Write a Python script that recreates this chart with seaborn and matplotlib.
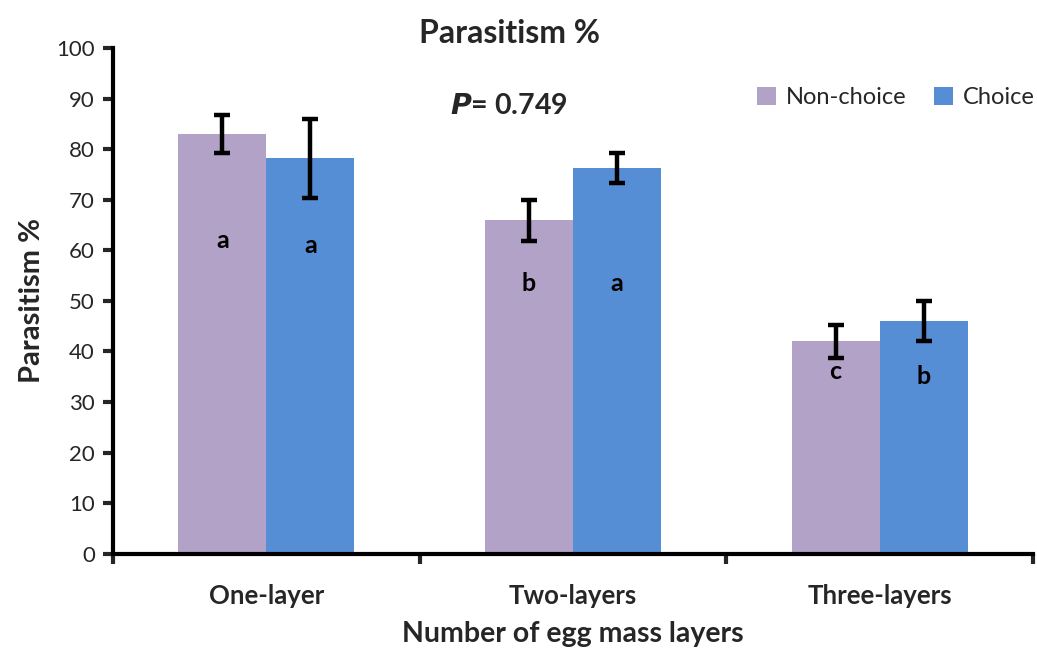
import matplotlib
matplotlib.use("Agg")
import matplotlib.pyplot as plt
import seaborn as sns
import pandas as pd
import numpy as np

# Data
layers = ["One-layer", "Two-layers", "Three-layers"]
treatments = ["Non-choice", "Choice"]
non_choice = [83.0, 65.9, 42.0]
choice = [78.2, 76.3, 46.0]
non_choice_err = [3.8, 4.0, 3.3]
choice_err = [7.8, 2.9, 3.9]
non_choice_letters = ["a", "b", "c"]
choice_letters = ["a", "a", "b"]
letter_y_non_choice = [62, 53.5, 36]
letter_y_choice = [61, 53.5, 35]

df = pd.DataFrame({
    "layer": layers * 2,
    "treatment": [treatments[0]] * 3 + [treatments[1]] * 3,
    "value": non_choice + choice,
    "err": non_choice_err + choice_err,
})

sns.set_style("white")
plt.rcParams["font.family"] = ["Lato", "DejaVu Sans"]

fig = plt.figure(figsize=(10.37, 6.53), dpi=100)
ax = fig.add_axes([0.109, 0.152, 0.887, 0.7745])

palette = {"Non-choice": "#B3A2C7", "Choice": "#558ED5"}
sns.barplot(data=df, x="layer", y="value", hue="treatment", order=layers,
            hue_order=treatments, palette=palette, width=0.574, gap=0,
            errorbar=None, saturation=1, ax=ax, linewidth=0)

# error bars and letters at bar centres
for cont, vals, errs, letters, ly in zip(
        ax.containers, [non_choice, choice], [non_choice_err, choice_err],
        [non_choice_letters, choice_letters], [letter_y_non_choice, letter_y_choice]):
    xs = [p.get_x() + p.get_width() / 2 for p in cont.patches]
    ax.errorbar(xs, vals, yerr=errs, fmt="none", ecolor="black",
                elinewidth=3.2, capsize=6, capthick=3.2, zorder=5)
    for x, t, y in zip(xs, letters, ly):
        ax.text(x, y, t, ha="center", va="center", fontsize=18,
                fontweight="bold", color="black")

ax.set_xlim(-0.5, 2.5)
ax.set_ylim(0, 100)
ax.set_yticks(np.arange(0, 101, 10))
ax.set_xticks([0, 1, 2])
ax.set_xticklabels(layers, fontsize=18.5, fontweight="bold")
ax.tick_params(axis="y", labelsize=16, direction="out", length=7, width=3,
               left=True, pad=6)
ax.tick_params(axis="x", length=0, pad=22)
# category boundary ticks on the x axis
ax.set_xticks([-0.5, 0.5, 1.5, 2.5], minor=True)
ax.tick_params(axis="x", which="minor", direction="out", length=7, width=3,
               bottom=True)

for side in ["top", "right"]:
    ax.spines[side].set_visible(False)
for side in ["left", "bottom"]:
    ax.spines[side].set_linewidth(3)
    ax.spines[side].set_color("black")

ax.set_xlabel("Number of egg mass layers", fontsize=20.5, fontweight="bold",
              labelpad=9)
ax.set_ylabel("Parasitism %", fontsize=21, fontweight="bold", labelpad=8)

ax.text(0.79, 88.5, r"$\bfit{P}$" + "= 0.749", fontsize=20.5, fontweight="bold",
        ha="center", va="center")

leg = ax.legend(loc="upper right", bbox_to_anchor=(1.025, 0.965), ncol=2,
                frameon=False, fontsize=17, handlelength=0.8, handleheight=0.8,
                handletextpad=0.4, columnspacing=1.2)
ax.text(0.4315, 1.0, "Parasitism %", transform=ax.transAxes, fontsize=23,
        fontweight="bold", ha="center", va="bottom")

fig.savefig("out.png", dpi=100)
